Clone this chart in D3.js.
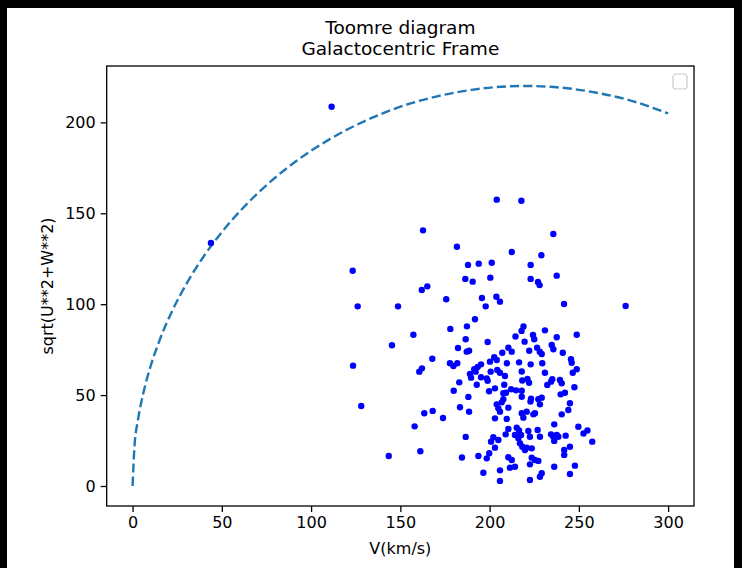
<!DOCTYPE html>
<html>
<head>
<meta charset="utf-8">
<script src="https://cdn.jsdelivr.net/npm/d3@7/dist/d3.min.js"></script>
<style>
  body { margin: 0; background: #000; }
  text { font-family: "DejaVu Sans", sans-serif; }
</style>
</head>
<body>
<div class="D3"></div>
<script>
//data: V (km/s) and sqrt(U**2+W**2) for each star
var starV = [111.5, 43.9, 162.7, 181.7, 187.9, 123.3, 186.4, 162.0, 165.1, 175.7, 126.1, 148.7,
  204.0, 217.8, 235.7, 212.4, 229.0, 193.9, 201.2, 223.0, 190.5, 200.4, 223.0, 227.1, 228.0, 237.6,
  195.7, 203.8, 205.8, 197.8, 241.7, 276.2, 157.3, 178.0, 145.3, 182.3, 123.5, 167.9, 162.1, 160.6,
  177.8, 179.7, 181.9, 183.0, 179.9, 128.1, 163.4, 168.1, 173.9, 183.4, 158.0, 143.5, 161.2, 184.5,
  191.8, 187.3, 186.6, 198.9, 219.0, 217.9, 214.5, 219.6, 187.2, 188.5, 210.5, 212.4, 207.1, 202.6,
  204.0, 200.2, 209.7, 216.5, 195.2, 193.3, 191.4, 192.2, 189.0, 200.6, 204.3, 205.8, 208.6, 218.0,
  195.2, 198.4, 198.9, 189.6, 192.8, 208.2, 203.0, 199.7, 207.7, 209.2, 212.0, 214.8, 218.0, 218.3,
  188.1, 207.7, 218.0, 231.0, 224.3, 225.0, 237.6, 248.8, 226.6, 228.1, 229.2, 234.8, 235.7, 222.2,
  241.0, 245.6, 246.0, 223.0, 229.5, 231.0, 248.8, 246.6, 221.2, 222.1, 235.1, 234.4, 239.4, 240.4,
  232.3, 247.5, 242.2, 239.8, 223.2, 229.2, 227.3, 222.9, 228.2, 245.0, 244.1, 240.4, 218.9, 220.8,
  224.5, 225.4, 221.7, 222.6, 226.9, 228.2, 236.2, 234.4, 235.7, 237.6, 236.2, 238.5, 242.6, 249.7,
  252.6, 254.8, 257.5, 219.8, 220.8, 223.6, 245.0, 241.8, 241.8, 223.6, 225.4, 227.3, 222.6, 236.2,
  247.8, 229.2, 228.2, 245.0, 222.6, 188.5, 204.0, 204.9, 206.8, 205.8, 210.5, 203.0, 209.6, 218.0,
  210.5, 215.2, 216.5, 214.2, 217.6, 216.1, 209.0, 186.6, 202.1, 200.8, 204.9, 203.0, 217.0, 218.3,
  193.7, 199.8, 198.4, 210.5, 212.4, 211.4, 214.2, 196.5, 205.8, 205.8];

var starUW = [208.6, 133.7, 140.6, 131.6, 121.6, 118.4, 113.9, 107.8, 109.8, 102.7, 98.8, 98.8,
  157.5, 156.9, 138.6, 128.7, 126.9, 122.3, 122.8, 121.6, 112.4, 114.6, 113.9, 112.2, 110.5, 115.7,
  103.4, 104.1, 101.4, 98.8, 100.1, 99.0, 83.2, 86.4, 77.4, 75.9, 66.2, 70.0, 64.7, 62.9,
  67.5, 66.0, 67.5, 57.0, 52.4, 44.0, 40.0, 41.3, 37.4, 43.3, 32.8, 16.5, 19.1, 15.7,
  91.7, 87.8, 80.7, 79.2, 87.7, 85.3, 82.2, 79.4, 73.9, 74.4, 76.1, 73.9, 73.3, 70.8,
  69.3, 68.4, 67.5, 68.0, 66.9, 65.5, 64.2, 62.9, 61.6, 62.9, 63.8, 62.3, 60.5, 63.0,
  59.8, 59.2, 57.9, 59.6, 55.7, 55.7, 53.7, 52.1, 51.0, 51.3, 53.2, 52.6, 52.4, 58.0,
  49.0, 47.7, 49.1, 85.6, 83.1, 80.7, 81.8, 83.2, 76.1, 73.9, 72.6, 77.6, 75.2, 74.4,
  73.3, 69.7, 67.8, 66.9, 67.5, 62.3, 64.2, 62.3, 58.9, 56.8, 58.7, 57.4, 58.3, 56.5,
  55.6, 54.3, 51.3, 50.4, 48.0, 48.6, 47.7, 46.5, 44.9, 45.5, 41.8, 39.4, 37.6, 40.9,
  39.4, 40.0, 30.3, 27.1, 30.8, 27.1, 33.9, 28.4, 27.1, 28.1, 24.8, 27.1, 27.7, 32.6,
  28.9, 30.5, 24.4, 19.8, 21.1, 20.7, 21.6, 19.8, 17.1, 15.6, 14.3, 13.8, 11.9, 10.6,
  11.2, 7.0, 5.1, 6.6, 3.3, 40.9, 44.9, 42.7, 46.0, 40.9, 43.1, 37.2, 36.9, 40.0,
  31.4, 32.1, 30.5, 28.1, 28.1, 26.2, 28.4, 27.0, 26.8, 24.4, 25.3, 21.1, 23.5, 21.6,
  16.5, 18.0, 15.2, 15.8, 14.3, 10.1, 10.6, 7.3, 8.6, 2.8];

//dashed boundary
var curveV = [0, 1, 3, 6, 10, 15, 22, 30, 40, 55, 70, 90, 110, 130, 150, 170, 190, 210, 220, 240, 260, 280, 300];
var curveH = [0, 21, 36.2, 51, 65.6, 79.8, 95.9, 110.9, 126.5, 145.5, 160.9, 177.5, 190.5, 200.7, 208.6, 214.2, 217.9, 219.8, 220, 219.1, 216.3, 211.7, 204.9];

var xTicks = [0, 50, 100, 150, 200, 250, 300];
var yTicks = [0, 50, 100, 150, 200];
var titleLines = ["Toomre diagram", "Galactocentric Frame"];

//set svg and chart dimensions and margins
var svgWidth = 742;
var svgHeight = 568;

var margin = {
  top: 66,
  left: 106.7,
  right: 48,
  bottom: 62
};

var chartWidth = svgWidth - margin.left - margin.right;
var chartHeight = svgHeight - margin.top - margin.bottom;

var svg = d3.select(".D3")
  .append("svg")
  .attr("width", svgWidth)
  .attr("height", svgHeight);

//black frame round the white figure
svg.append("rect")
  .attr("width", svgWidth)
  .attr("height", svgHeight)
  .attr("fill", "#000");

svg.append("rect")
  .attr("x", 7)
  .attr("y", 8)
  .attr("width", 727)
  .attr("height", svgHeight - 8)
  .attr("fill", "#fff");

var chartGroup = svg.append("g")
  .attr("transform", `translate(${margin.left}, ${margin.top})`);

var xLinearScale = d3.scaleLinear()
  .domain([-14.5, 314.5])
  .range([0, chartWidth]);

var yLinearScale = d3.scaleLinear()
  .domain([-11, 231])
  .range([chartHeight, 0]);

//axes
var bottomAxis = d3.axisBottom(xLinearScale)
  .tickValues(xTicks)
  .tickSize(6)
  .tickPadding(5);

var leftAxis = d3.axisLeft(yLinearScale)
  .tickValues(yTicks)
  .tickSize(6)
  .tickPadding(5);

var xAxis = chartGroup.append("g")
  .attr("transform", `translate(0, ${chartHeight})`)
  .call(bottomAxis);

var yAxis = chartGroup.append("g")
  .call(leftAxis);

[xAxis, yAxis].forEach(function(ax) {
  ax.select(".domain").remove();
  ax.selectAll("line").attr("stroke", "#000").attr("stroke-width", 1.3);
  ax.selectAll("text")
    .attr("fill", "#000")
    .style("font-size", "16px")
    .style("font-family", "'DejaVu Sans', sans-serif");
});

//dashed line
var line = d3.line()
  .x(function(d, i) { return xLinearScale(curveV[i]); })
  .y(function(d) { return yLinearScale(d); })
  .curve(d3.curveMonotoneX);

chartGroup.append("path")
  .datum(curveH)
  .attr("d", line)
  .attr("fill", "none")
  .attr("stroke", "#1f77b4")
  .attr("stroke-width", 2.4)
  .attr("stroke-dasharray", "9.2,4");

//stars
chartGroup.selectAll("circle")
  .data(starV)
  .enter()
  .append("circle")
  .attr("cx", d => xLinearScale(d))
  .attr("cy", (d, i) => yLinearScale(starUW[i]))
  .attr("r", 3.2)
  .attr("fill", "#0000ff");

//empty legend box
chartGroup.append("rect")
  .attr("x", chartWidth - 21)
  .attr("y", 8)
  .attr("width", 14)
  .attr("height", 15)
  .attr("rx", 3)
  .attr("fill", "#fff")
  .attr("stroke", "#cccccc")
  .attr("stroke-width", 1.2);

//spines
chartGroup.append("rect")
  .attr("width", chartWidth)
  .attr("height", chartHeight)
  .attr("fill", "none")
  .attr("stroke", "#000")
  .attr("stroke-width", 1.3);

//title and axis labels
chartGroup.selectAll(".title")
  .data(titleLines)
  .enter()
  .append("text")
  .classed("title", true)
  .attr("x", chartWidth / 2)
  .attr("y", (d, i) => -32 + i * 21)
  .attr("text-anchor", "middle")
  .style("font-size", "18.5px")
  .text(d => d);

chartGroup.append("text")
  .attr("x", chartWidth / 2)
  .attr("y", chartHeight + 48)
  .attr("text-anchor", "middle")
  .style("font-size", "16px")
  .text("V(km/s)");

chartGroup.append("text")
  .attr("transform", `translate(-54, ${chartHeight / 2}) rotate(-90)`)
  .attr("text-anchor", "middle")
  .style("font-size", "16px")
  .text("sqrt(U**2+W**2)");
</script>
</body>
</html>
